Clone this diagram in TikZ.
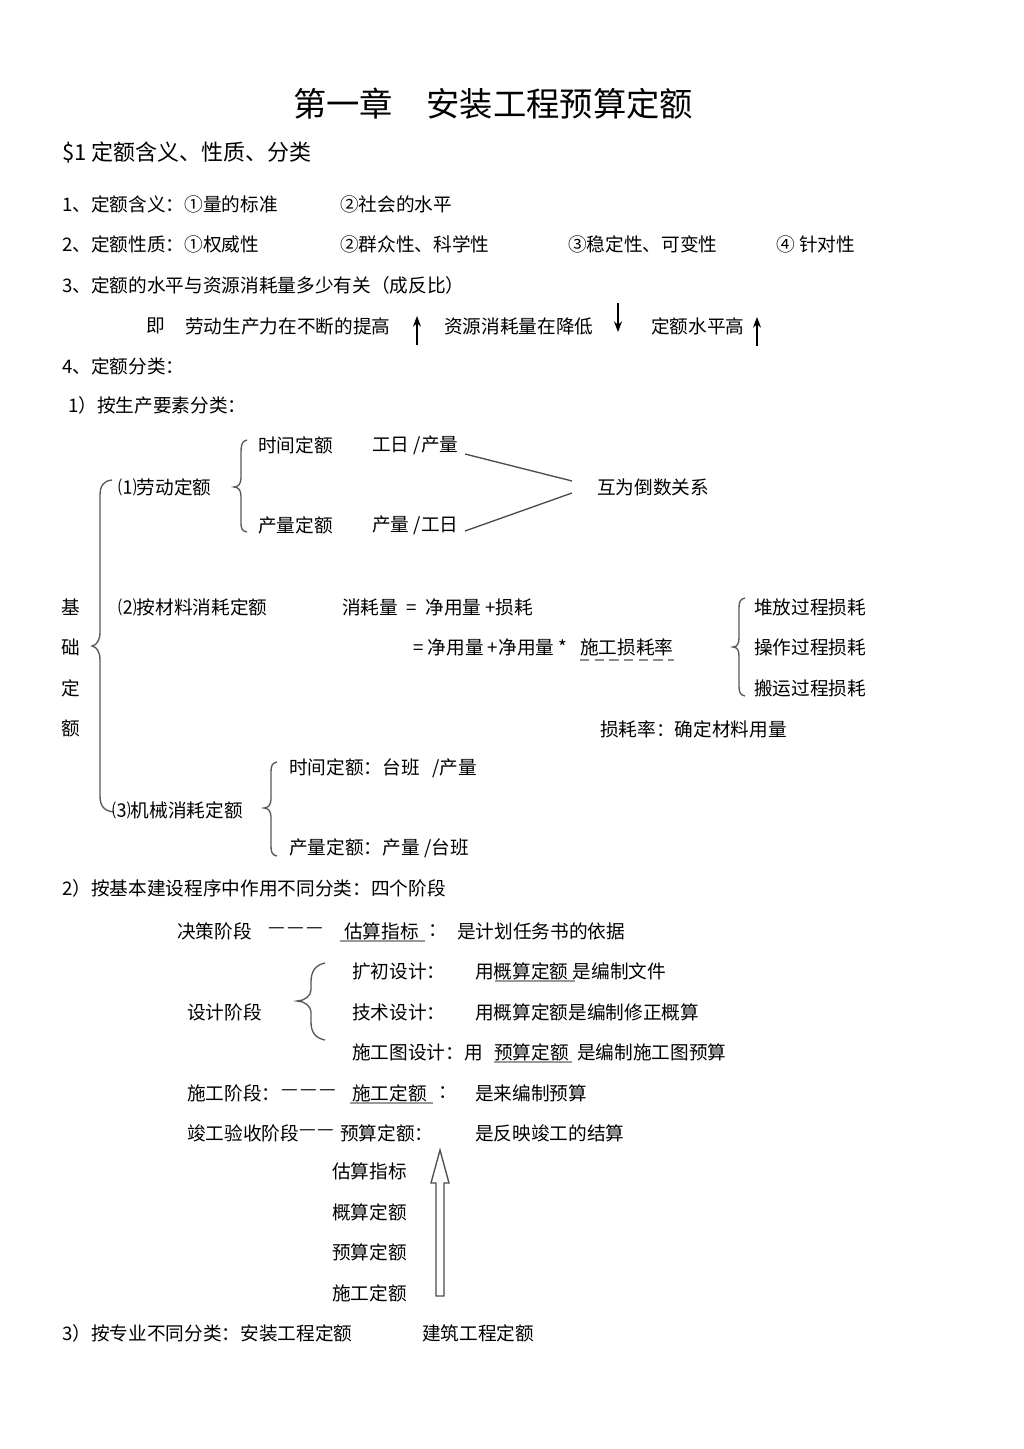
\documentclass[tikz,border=0pt]{standalone}
\usepackage{fontspec}
\setmainfont{Noto Sans CJK SC}
\usetikzlibrary{arrows.meta}
\newcommand{\tridash}{—\kern2pt—\kern2pt—}
\newcommand{\duodash}{—\kern1pt—}
\begin{document}
\begin{tikzpicture}[x=0.75pt,y=-0.75pt,
  every node/.style={inner sep=0pt, anchor=west, font=\fontsize{14}{16}\selectfont},
  ln/.style={draw=black!70, line width=1pt},
  brace/.style={draw=black!65, line width=1pt},
  ul/.style={draw=black!40, line width=1pt},
  arr/.style={draw=black, line width=1pt, -{Stealth[length=8pt,width=6pt]}}]
\useasboundingbox[fill=white] (0,0) rectangle (1024,1449);

% title
\node[anchor=center, font=\fontsize{25}{30}\selectfont] (title) at (493,104) {第一章\hspace{1em}安装工程预算定额};
\node[font=\fontsize{16.5}{20}\selectfont] (s1) at (62,153) {\$1 定额含义、性质、分类};

\node (a1) at (62,204) {1、定额含义：①量的标准};
\node (a2) at (340,204) {②社会的水平};
\node (b1) at (62,244) {2、定额性质：①权威性};
\node (b2) at (340,244) {②群众性、科学性};
\node (b3) at (568,244) {③稳定性、可变性};
\node (b4) at (776,244) {④\ 针对性};
\node (c1) at (62,285) {3、定额的水平与资源消耗量多少有关（成反比）};
\node (ji) at (146,326) {即};
\node (d1) at (185,326) {劳动生产力在不断的提高};
\node (d2) at (444,326) {资源消耗量在降低};
\node (d3) at (651,326) {定额水平高};
\coordinate (u1a) at (417,345); \coordinate (u1b) at (417,316);
\coordinate (u2a) at (618,303); \coordinate (u2b) at (618,332);
\coordinate (u3a) at (757,346); \coordinate (u3b) at (757,317);
\draw[arr] (u1a) -- (u1b);
\draw[arr] (u2a) -- (u2b);
\draw[arr] (u3a) -- (u3b);

\node (e) at (62,366) {4、定额分类：};
\node (e1) at (68,405) {1）按生产要素分类：};

% basic quota brace
\foreach \ch/\yy [count=\i] in {基/607,础/647,定/688,额/728}
  \node[anchor=center] (jc\i) at (71,\yy) {\ch};
\draw[brace] (112,480) .. controls (103,481) and (100,486) .. (100,496)
  -- (100,632) .. controls (100,640) and (97,645) .. (92,646)
  .. controls (97,647) and (100,652) .. (100,660)
  -- (100,796) .. controls (100,806) and (104,811) .. (114,812);

% (1) labour quota
\node (l1) at (118,487) {⑴劳动定额};
\draw[brace] (247,440) .. controls (242,441) and (241,445) .. (241,452)
  -- (241,478) .. controls (241,484) and (238,487) .. (234,487)
  .. controls (238,487) and (241,490) .. (241,496)
  -- (241,522) .. controls (241,529) and (242,531) .. (247,532);
\node (t1) at (258,445) {时间定额};
\node (t1r) at (372,445) {工日 /产量};
\node (t2) at (258,525) {产量定额};
\node (t2r) at (372,525) {产量 /工日};
\node (rel) at (597,487) {互为倒数关系};
\coordinate (p1) at (465,454); \coordinate (q1) at (572,481);
\coordinate (p2) at (465,531); \coordinate (q2) at (572,493);
\draw[ln] (p1) -- (q1);
\draw[ln] (p2) -- (q2);

% (2) material
\node (m1) at (118,607) {⑵按材料消耗定额};
\node (m2) at (342,607) {消耗量\ \ =\ \ 净用量 +损耗};
\node (m3) at (413,647) {=\ 净用量 +净用量 *};
\node (m3b) at (580,647) {施工损耗率};
\coordinate (da) at ([yshift=-3pt]m3b.south west);
\coordinate (db) at ([yshift=-3pt]m3b.south east);
\draw[draw=black!45, line width=1.5pt, dash pattern=on 7pt off 4pt] (da) -- (db);
\draw[brace] (745,598) .. controls (740,599) and (739,602) .. (739,608)
  -- (739,638) .. controls (739,644) and (737,647) .. (733,647)
  .. controls (737,647) and (739,650) .. (739,656)
  -- (739,686) .. controls (739,692) and (740,695) .. (745,696);
\node (w1) at (754,607) {堆放过程损耗};
\node (w2) at (754,647) {操作过程损耗};
\node (w3) at (754,688) {搬运过程损耗};
\node (w4) at (600,729) {损耗率：确定材料用量};

% (3) machine
\node (k1) at (112,810) {⑶机械消耗定额};
\draw[brace] (277,762) .. controls (272,763) and (271,766) .. (271,772)
  -- (271,799) .. controls (271,805) and (268,808) .. (264,808)
  .. controls (268,808) and (271,811) .. (271,817)
  -- (271,846) .. controls (271,852) and (272,855) .. (277,856);
\node (k2) at (289,768) {时间定额：台班\ \ \ /产量};
\node (k3) at (289,848) {产量定额：产量 /台班};

% 2) stages
\node (f) at (62,888) {2）按基本建设程序中作用不同分类：四个阶段};
\node (g1) at (177,931) {决策阶段};
\node (g2) at (268,931) {\tridash};
\node (g3) at (344,931) {估算指标};
\node (g4) at (428,931) {：};
\node (g5) at (457,931) {是计划任务书的依据};
\coordinate (ua1) at (340,941); \coordinate (ub1) at (425,941);
\draw[ul] (ua1) -- (ub1);

\node (h0) at (187,1012) {设计阶段};
\draw[brace] (325,963) .. controls (315,965) and (311,972) .. (311,982)
  -- (311,990) .. controls (311,996) and (304,1001) .. (297,1001)
  .. controls (304,1001) and (311,1006) .. (311,1012)
  -- (311,1022) .. controls (311,1032) and (315,1038) .. (325,1040);
\node (h1) at (352,971) {扩初设计：};
\node (h1r) at (475,971) {用概算定额\ 是编制文件};
\coordinate (ua2) at (495,981); \coordinate (ub2) at (575,981);
\draw[ul] (ua2) -- (ub2);
\node (h2) at (352,1012) {技术设计：};
\node (h2r) at (475,1012) {用概算定额是编制修正概算};
\node (h3) at (352,1052) {施工图设计：用};
\node (h3b) at (494,1052) {预算定额};
\node (h3c) at (577,1052) {是编制施工图预算};
\coordinate (ua3) at (494,1062); \coordinate (ub3) at (572,1062);
\draw[ul] (ua3) -- (ub3);

\node (i1) at (187,1093) {施工阶段：};
\node (i1d) at (281,1093) {\tridash};
\node (i1b) at (352,1093) {施工定额};
\node (i1c) at (438,1093) {：};
\node (i1r) at (475,1093) {是来编制预算};
\coordinate (ua4) at (350,1103); \coordinate (ub4) at (433,1103);
\draw[ul] (ua4) -- (ub4);
\node (i2) at (187,1133) {竣工验收阶段};
\node (i2d) at (299,1133) {\duodash};
\node (i2b) at (340,1133) {预算定额：};
\node (i2r) at (475,1133) {是反映竣工的结算};

% hollow arrow and list
\node (n1) at (332,1171) {估算指标};
\node (n2) at (332,1212) {概算定额};
\node (n3) at (332,1252) {预算定额};
\node (n4) at (332,1293) {施工定额};
\draw[black!70, line width=1pt, line join=miter] (436,1296) -- (436,1183) -- (431,1183)
  -- (440,1150) -- (449,1183) -- (444,1183) -- (444,1296) -- cycle;

\node (o1) at (62,1333) {3）按专业不同分类：安装工程定额};
\node (o2) at (422,1333) {建筑工程定额};
\end{tikzpicture}
\end{document}
